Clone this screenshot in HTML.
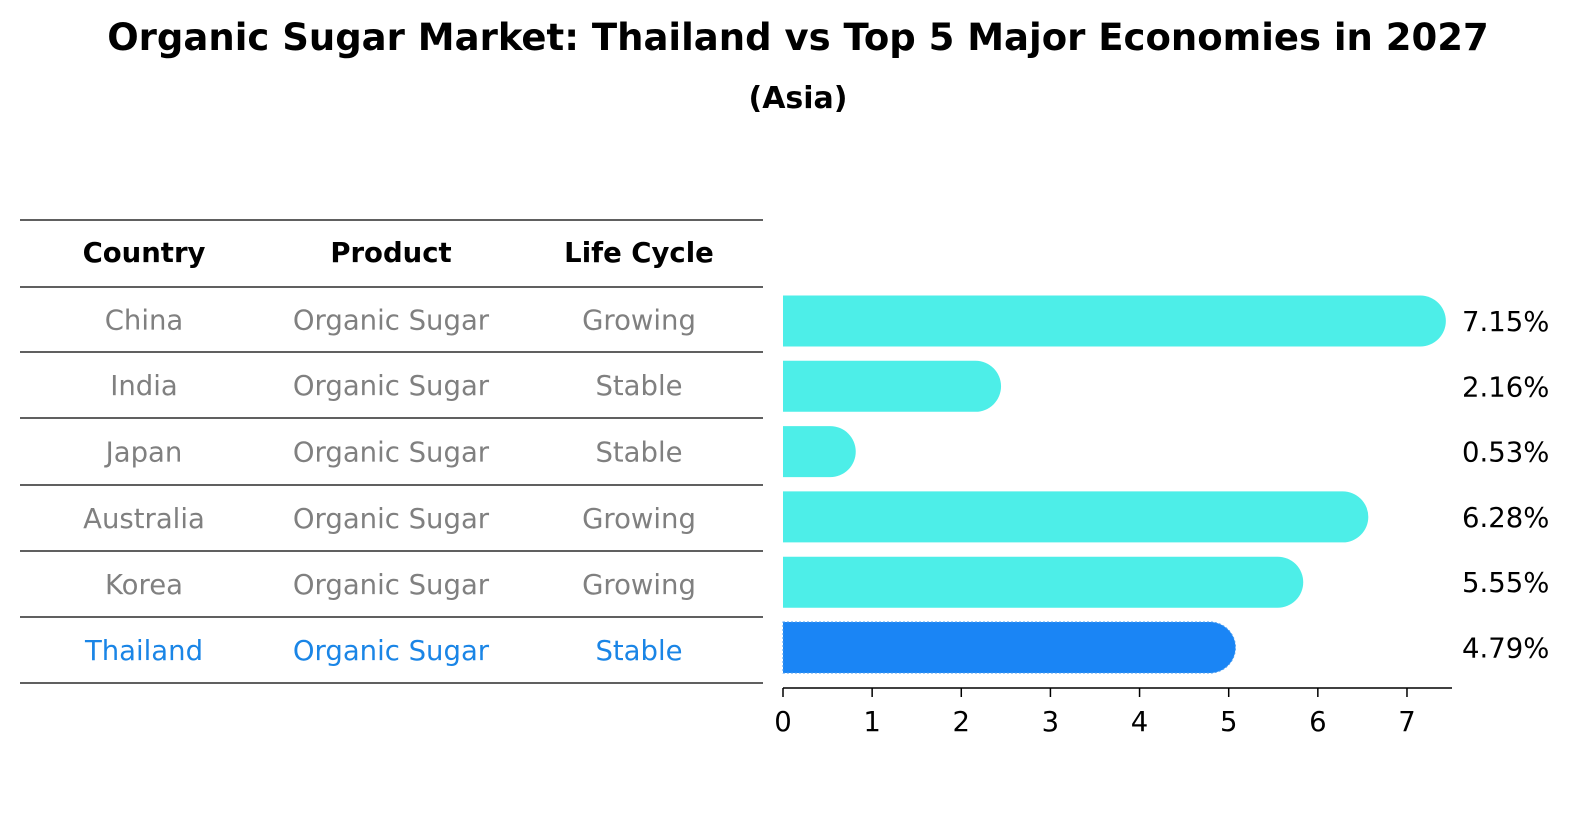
<!DOCTYPE html>
<html><head><meta charset="utf-8"><style>
body{margin:0;background:#fff;font-family:"DejaVu Sans","Liberation Sans",sans-serif;}
svg text{font-family:"DejaVu Sans","Liberation Sans",sans-serif;}
</style></head><body>
<svg id="c" width="1586" height="823" viewBox="0 0 1586 823">
<text x="798" y="50" text-anchor="middle" font-size="37" font-weight="bold">Organic Sugar Market: Thailand vs Top 5 Major Economies in 2027</text>
<text x="798" y="108" text-anchor="middle" font-size="30" font-weight="bold">(Asia)</text>
<g id="table"></g>
<g id="bars"></g>
</svg>
<script>
const countries=["China","India","Japan","Australia","Korea","Thailand"];
const products=["Organic Sugar","Organic Sugar","Organic Sugar","Organic Sugar","Organic Sugar","Organic Sugar"];
const lifeCycles=["Growing","Stable","Stable","Growing","Growing","Stable"];
const values=[7.15,2.16,0.53,6.28,5.55,4.79];
const ticks=[0,1,2,3,4,5,6,7];
const NS="http://www.w3.org/2000/svg";
function mk(tag,attrs,parent,txt){const e=document.createElementNS(NS,tag);for(const k in attrs)e.setAttribute(k,attrs[k]);if(txt!==undefined)e.textContent=txt;parent.appendChild(e);return e;}
const tbl=document.getElementById('table'), bars=document.getElementById('bars');
const x0=783, ux=89.14, rowY0=321, rowH=65.3, barH=51, r=25.5;
const xs=v=>x0+v*ux;
const ys=i=>rowY0+i*rowH;
const colX=[144,391,639];
const lineYs=[220,287,352,418,485,551,617,683];
lineYs.forEach((y,i)=>{const l=mk('line',{x1:20,x2:763,y1:y,y2:y,stroke:'#000','stroke-width':1.2},tbl);

});
["Country","Product","Life Cycle"].forEach((h,j)=>{const t=mk('text',{x:colX[j],y:262,'text-anchor':'middle','font-size':27.5,'font-weight':'bold'},tbl,h);

});
countries.forEach((c,i)=>{
 const col=i===countries.length-1?'#1a85e6':'#808080';
 [c,products[i],lifeCycles[i]].forEach((v,j)=>{
  const t=mk('text',{x:colX[j],y:(lineYs[i+1]+lineYs[i+2])/2+10,'text-anchor':'middle','font-size':27.5,fill:col},tbl,v);
  
  
 });
 const hl=i===countries.length-1;
 const y=ys(i), w=xs(values[i])-x0;
 const p=mk('path',{d:`M${x0},${y-barH/2} h${w} a${r},${barH/2} 0 0 1 0,${barH} h${-w} Z`,fill:hl?'#1a85f5':'#4deee8'},bars);
 if(hl){p.setAttribute('stroke','#4a9df0');p.setAttribute('stroke-dasharray','2,2');}
 
 
 const t=mk('text',{x:1462,y:y+10,'font-size':27.5},bars,values[i].toFixed(2)+'%');
 
 
});
const ax=mk('line',{x1:x0,x2:1452,y1:688,y2:688,stroke:'#000','stroke-width':1.5},bars);


ticks.forEach(v=>{
 const tk=mk('line',{x1:xs(v),x2:xs(v),y1:688,y2:697,stroke:'#000','stroke-width':1.5},bars);
 
 
 const t=mk('text',{x:xs(v),y:731,'text-anchor':'middle','font-size':27.5},bars,String(v));
 
 
});
</script>
</body></html>
